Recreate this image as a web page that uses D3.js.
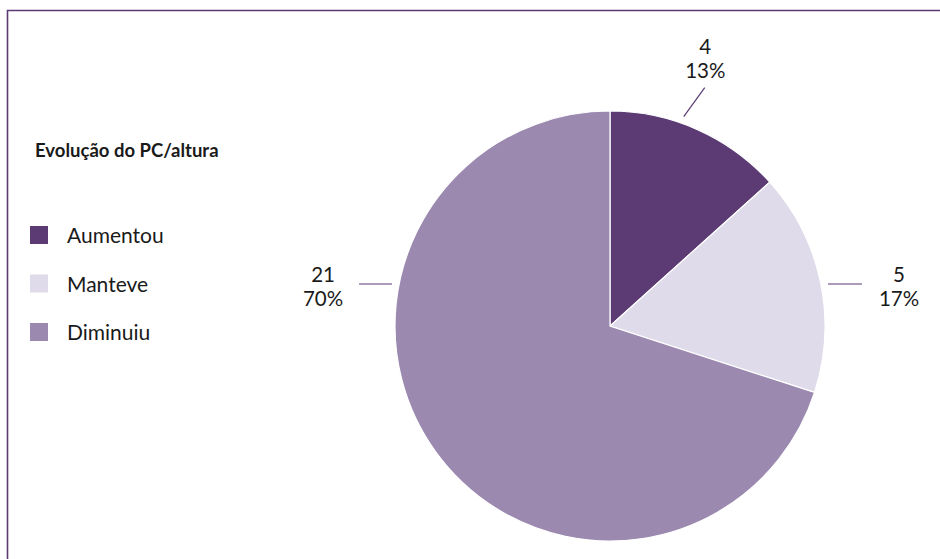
<!DOCTYPE html>
<html>
<head>
<meta charset="utf-8">
<script src="https://cdn.jsdelivr.net/npm/d3@7/dist/d3.min.js"></script>
<style>
  html, body { margin: 0; padding: 0; background: #fff; }
  svg { display: block; }
  text { font-family: "Lato", "Noto Sans", sans-serif; fill: #1a1a1a; }
</style>
</head>
<body>
<svg id="chart" width="940" height="559"></svg>
<script>
const categories = ["Aumentou", "Manteve", "Diminuiu"];
const values = [4, 5, 21];
const percentLabels = ["13%", "17%", "70%"];
const colors = ["#5c3b74", "#dfdbea", "#9b89b0"];
const legendTitle = "Evolução do PC/altura";

const svg = d3.select("#chart");
const W = 940, H = 559;

// frame (top and left border)
svg.append("path")
  .attr("d", `M7.5,${H} L7.5,10.5 L${W},10.5`)
  .attr("fill", "none")
  .attr("stroke", "#5c3b74")
  .attr("stroke-width", 1.6);

const cx = 610, cy = 326, R = 215;
const g = svg.append("g").attr("transform", `translate(${cx},${cy})`);

const pie = d3.pie().sort(null).value(d => d)(values);
const arc = d3.arc().innerRadius(0).outerRadius(R);

g.selectAll("path.slice")
  .data(pie)
  .enter().append("path")
  .attr("class", "slice")
  .attr("d", arc)
  .attr("fill", (d, i) => colors[i])
  .attr("stroke", "#fff")
  .attr("stroke-width", 1.2);

// label layout: leader start angle (deg from 12 o'clock), line vector, text offset
const labelLayout = [
  { a: 19.4, r: 222, dx: 21, dy: -29, tx: 0.5, ty: -34 },
  { a: 79.1, r: 222, dx: 34, dy: 0, tx: 37, ty: -2 },
  { a: 280.9, r: 222, dx: -33, dy: 0, tx: -36, ty: -2 }
];

pie.forEach((d, i) => {
  const L = labelLayout[i];
  const ang = L.a * Math.PI / 180;
  const x1 = Math.sin(ang) * L.r, y1 = -Math.cos(ang) * L.r;
  const x2 = x1 + L.dx, y2 = y1 + L.dy;
  g.append("line")
    .attr("x1", x1).attr("y1", y1).attr("x2", x2).attr("y2", y2)
    .attr("stroke", "#5c3b74").attr("stroke-width", 1.2);
  g.append("text")
    .attr("text-anchor", "middle")
    .attr("font-size", 20.5)
    .attr("x", x2 + L.tx)
    .attr("y", y2 + L.ty)
    .text(values[i]);
  g.append("text")
    .attr("text-anchor", "middle")
    .attr("font-size", 20.5)
    .attr("x", x2 + L.tx)
    .attr("y", y2 + L.ty + 24)
    .text(percentLabels[i]);
});

// legend
svg.append("text")
  .attr("x", 35).attr("y", 157)
  .attr("font-size", 18.5)
  .attr("font-weight", "bold")
  .text(legendTitle);

const lg = svg.append("g");
categories.forEach((c, i) => {
  const y = 226 + i * 48.5;
  lg.append("rect")
    .attr("x", 30).attr("y", y)
    .attr("width", 18).attr("height", 18)
    .attr("fill", colors[i]);
  lg.append("text")
    .attr("x", 67).attr("y", y + 17)
    .attr("font-size", 21)
    .text(c);
});
</script>
</body>
</html>
